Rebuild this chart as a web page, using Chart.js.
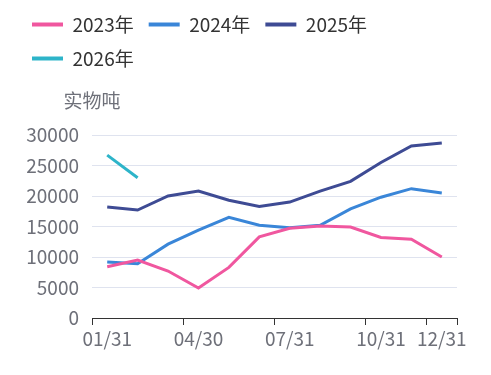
<!DOCTYPE html>
<html>
<head>
<meta charset="utf-8">
<script src="https://cdn.jsdelivr.net/npm/chart.js@4/dist/chart.umd.min.js"></script>
<style>
  html, body { margin: 0; padding: 0; background: #fff; }
  #wrap { width: 491px; height: 375px; position: relative; }
</style>
</head>
<body>
<div id="wrap"><canvas id="chart"></canvas></div>
<script>
// month-end categories, only some of them get a label
var months = ['01/31', '02/28', '03/31', '04/30', '05/31', '06/30', '07/31', '08/31', '09/30', '10/31', '11/30', '12/31'];
var shownMonths = [0, 3, 6, 9, 11];

var yearNames = ['2023年', '2024年', '2025年', '2026年'];
var s2023 = [8400, 9500, 7700, 4900, 8300, 13300, 14700, 15100, 14900, 13200, 12900, 10000];
var s2024 = [9200, 8900, 12100, 14400, 16500, 15200, 14800, 15200, 17900, 19800, 21200, 20500];
var s2025 = [18200, 17700, 20000, 20800, 19300, 18300, 19000, 20800, 22400, 25500, 28200, 28700];
var s2026 = [26700, 23000, null, null, null, null, null, null, null, null, null, null];
var colors = ['#f0579f', '#3a86d8', '#3e4b94', '#2db4c9'];
var unitLabel = '实物吨';

Chart.defaults.font.family = "'Noto Sans CJK SC', 'Noto Sans', sans-serif";

function line(i, data) {
    return {
        label: yearNames[i],
        data: data,
        borderColor: colors[i],
        backgroundColor: colors[i],
        borderWidth: 3,
        pointRadius: 0,
        pointHoverRadius: 0,
        tension: 0,
        fill: false
    };
}

// adds room under the legend and writes the unit above the y axis
var unitPlugin = {
    id: 'unitPlugin',
    afterInit: function (chart) {
        var lg = chart.legend;
        var fit = lg.fit;
        lg.fit = function () {
            fit.call(this);
            this.height += 57;
        };
    },
    afterDraw: function (chart) {
        var c = chart.ctx;
        c.save();
        c.font = "19px 'Noto Sans CJK SC', 'Noto Sans', sans-serif";
        c.fillStyle = '#6e7079';
        c.textAlign = 'center';
        c.textBaseline = 'middle';
        c.fillText(unitLabel, chart.chartArea.left, 101);
        c.restore();
    }
};

var ctx = document.getElementById('chart').getContext('2d');
var chart = new Chart(ctx, {
    type: 'line',
    data: {
        labels: months,
        datasets: [line(0, s2023), line(1, s2024), line(2, s2025), line(3, s2026)]
    },
    options: {
        responsive: true,
        maintainAspectRatio: false,
        animation: false,
        layout: { padding: { left: 17, right: 34, top: 0, bottom: 0 } },
        plugins: {
            tooltip: { enabled: false },
            legend: {
                position: 'top',
                align: 'start',
                labels: {
                    boxWidth: 31,
                    boxHeight: 4,
                    padding: 15,
                    color: '#333',
                    font: { size: 19 },
                    generateLabels: function (chart) {
                        return Chart.defaults.plugins.legend.labels.generateLabels(chart).map(function (l) {
                            l.lineWidth = 0;
                            return l;
                        });
                    }
                }
            }
        },
        scales: {
            x: {
                offset: true,
                afterFit: function (scale) { scale.height = 57; },
                grid: {
                    offset: true,
                    drawOnChartArea: false,
                    tickLength: 7,
                    tickColor: function (c) {
                        if (c.type === 'scale') return '#333';
                        return shownMonths.indexOf(c.index) >= 0 ? '#333' : 'rgba(0,0,0,0)';
                    }
                },
                border: { display: true, color: '#333', width: 1 },
                ticks: {
                    autoSkip: false,
                    maxRotation: 0,
                    padding: 2,
                    color: '#6e7079',
                    font: { size: 19 },
                    callback: function (v, i) {
                        return shownMonths.indexOf(i) >= 0 ? months[i] : '';
                    }
                }
            },
            y: {
                min: 0,
                max: 30000,
                afterFit: function (scale) { scale.width = 75; },
                grid: {
                    drawTicks: false,
                    color: function (c) {
                        return c.tick && c.tick.value === 0 ? 'rgba(0,0,0,0)' : '#dfe3ef';
                    }
                },
                border: { display: false },
                ticks: {
                    stepSize: 5000,
                    padding: 13,
                    color: '#6e7079',
                    font: { size: 19 },
                    callback: function (v) { return String(v); }
                }
            }
        }
    },
    plugins: [unitPlugin]
});
</script>
</body>
</html>
